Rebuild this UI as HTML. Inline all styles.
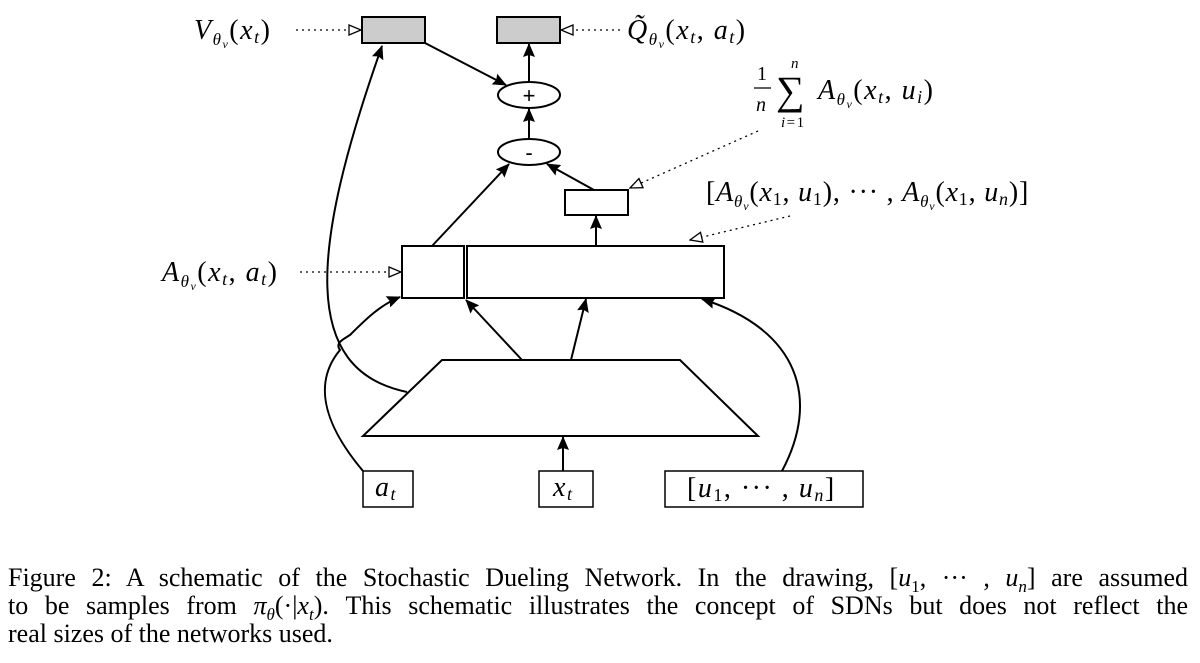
<!DOCTYPE html>
<html><head><meta charset="utf-8"><style>
html,body{margin:0;padding:0;background:#fff;}
body{width:1200px;height:663px;overflow:hidden;position:relative;}
svg{position:absolute;left:0;top:0;}
.m{font-family:"Liberation Serif",serif;font-style:italic;letter-spacing:1.5px;}
.cap{position:absolute;left:8px;width:1180px;font-family:"Liberation Serif",serif;font-size:26px;line-height:27.5px;text-align:justify;text-align-last:justify;color:#000;white-space:nowrap;}
.cap sub{font-size:17px;line-height:0;}
</style></head><body>
<svg width="1200" height="663" viewBox="0 0 1200 663">
<defs>
<marker id="a" markerWidth="14" markerHeight="12" refX="13" refY="6" orient="auto" markerUnits="userSpaceOnUse"><path d="M0,0 L14,6 L0,12 L2,6z" fill="#000"/></marker>
<marker id="h" markerWidth="14" markerHeight="12" refX="13" refY="6" orient="auto" markerUnits="userSpaceOnUse"><path d="M1,1 L13,6 L1,11z" fill="#fff" stroke="#000" stroke-width="1.3"/></marker>
</defs>
<g stroke="#000" stroke-width="2" fill="none">
<rect x="362" y="17" width="63" height="26" fill="#ccc"/>
<rect x="497" y="17" width="63" height="26" fill="#ccc"/>
<ellipse cx="529" cy="95" rx="31" ry="13" fill="#fff"/>
<ellipse cx="529" cy="152" rx="31" ry="13" fill="#fff"/>
<rect x="565" y="190" width="63" height="25" fill="#fff"/>
<rect x="402" y="246" width="62" height="52" fill="#fff"/>
<rect x="467" y="246" width="257" height="52" fill="#fff"/>
<path d="M442,360 L680,360 L758,436 L363,436 Z" fill="#fff"/>
<rect x="363" y="471" width="50" height="36" fill="#fff" stroke-width="1.5"/>
<rect x="539" y="471" width="54" height="36" fill="#fff" stroke-width="1.5"/>
<rect x="665" y="471" width="198" height="36" fill="#fff" stroke-width="1.5"/>
<g marker-end="url(#a)">
<line x1="425" y1="43" x2="506" y2="85"/>
<line x1="529" y1="82" x2="529" y2="44"/>
<line x1="529" y1="139" x2="529" y2="109"/>
<line x1="432" y1="246" x2="509" y2="164"/>
<line x1="594" y1="190" x2="547" y2="164"/>
<line x1="596" y1="246" x2="596" y2="216"/>
<line x1="522" y1="360" x2="466" y2="300"/>
<line x1="571" y1="360" x2="586" y2="299"/>
<line x1="563" y1="471" x2="563" y2="437"/>
<path d="M782,471 C820,400 800,330 702,299"/>
<path d="M363,471 C320,420 315,380 340,350 C335,343 342,340 350,335 C365,320 380,305 400,297"/>
<path d="M407,392 C300,370 310,250 382,46"/>
</g>
<g stroke-width="1.3" stroke-dasharray="2,4" marker-end="url(#h)">
<line x1="296" y1="30" x2="361" y2="30"/>
<line x1="620" y1="30" x2="561" y2="30"/>
<line x1="300" y1="272" x2="401" y2="272"/>
<line x1="758" y1="131" x2="630" y2="188"/>
<line x1="790" y1="216" x2="690" y2="240"/>
</g>
</g>
<g class="m" fill="#000" font-size="28">
<text x="194" y="39">V<tspan font-size="17" dy="6">θ<tspan font-size="12" dy="3">v</tspan></tspan><tspan dy="-9" font-style="normal">(</tspan>x<tspan font-size="18" dy="4">t</tspan><tspan dy="-4" font-style="normal">)</tspan></text>
<text x="627" y="39">Q̃<tspan font-size="17" dy="6">θ<tspan font-size="12" dy="3">v</tspan></tspan><tspan dy="-9" font-style="normal">(</tspan>x<tspan font-size="18" dy="4">t</tspan><tspan dy="-4" font-style="normal">, </tspan>a<tspan font-size="18" dy="4">t</tspan><tspan dy="-4" font-style="normal">)</tspan></text>
<text x="162" y="281">A<tspan font-size="17" dy="6">θ<tspan font-size="12" dy="3">v</tspan></tspan><tspan dy="-9" font-style="normal">(</tspan>x<tspan font-size="18" dy="4">t</tspan><tspan dy="-4" font-style="normal">, </tspan>a<tspan font-size="18" dy="4">t</tspan><tspan dy="-4" font-style="normal">)</tspan></text>
<text x="757" y="80" font-style="normal" font-size="20">1</text>
<line x1="754" y1="88" x2="771" y2="88" stroke="#000" stroke-width="1.2"/>
<text x="756" y="111" font-size="20">n</text>
<text x="776" y="104" font-style="normal" font-size="40">∑</text>
<text x="791" y="68" font-size="15">n</text>
<text x="781" y="127" font-size="15">i<tspan font-style="normal">=1</tspan></text>
<text x="818" y="99">A<tspan font-size="17" dy="6">θ<tspan font-size="12" dy="3">v</tspan></tspan><tspan dy="-9" font-style="normal">(</tspan>x<tspan font-size="18" dy="4">t</tspan><tspan dy="-4" font-style="normal">, </tspan>u<tspan font-size="18" dy="4">i</tspan><tspan dy="-4" font-style="normal">)</tspan></text>
<text x="706" y="201" letter-spacing="0.8"><tspan font-style="normal">[</tspan>A<tspan font-size="17" dy="6">θ<tspan font-size="12" dy="3">v</tspan></tspan><tspan dy="-9" font-style="normal">(</tspan>x<tspan font-size="18" dy="4" font-style="normal">1</tspan><tspan dy="-4" font-style="normal">, </tspan>u<tspan font-size="18" dy="4" font-style="normal">1</tspan><tspan dy="-4" font-style="normal">), ··· , </tspan>A<tspan font-size="17" dy="6">θ<tspan font-size="12" dy="3">v</tspan></tspan><tspan dy="-9" font-style="normal">(</tspan>x<tspan font-size="18" dy="4" font-style="normal">1</tspan><tspan dy="-4" font-style="normal">, </tspan>u<tspan font-size="18" dy="4">n</tspan><tspan dy="-4" font-style="normal">)]</tspan></text>
<text x="375" y="496">a<tspan font-size="18" dy="4">t</tspan></text>
<text x="553" y="496">x<tspan font-size="18" dy="4">t</tspan></text>
<text x="687" y="497"><tspan font-style="normal">[</tspan>u<tspan font-size="18" dy="4" font-style="normal">1</tspan><tspan dy="-4" font-style="normal">, ··· , </tspan>u<tspan font-size="18" dy="4">n</tspan><tspan dy="-4" font-style="normal">]</tspan></text>
</g>
<g font-family="Liberation Sans,sans-serif" font-size="22" text-anchor="middle" fill="#000">
<text x="529" y="103">+</text>
<text x="529" y="160">-</text>
</g>
</svg>
<div class="cap" style="top:564px">Figure 2: A schematic of the Stochastic Dueling Network. In the drawing, [<i>u</i><sub>1</sub>, ··· , <i>u<sub>n</sub></i>] are assumed</div>
<div class="cap" style="top:592px">to be samples from <i>π<sub>θ</sub></i>(·|<i>x<sub>t</sub></i>). This schematic illustrates the concept of SDNs but does not reflect the</div>
<div class="cap" style="top:620px;text-align-last:left">real sizes of the networks used.</div>
</body></html>
